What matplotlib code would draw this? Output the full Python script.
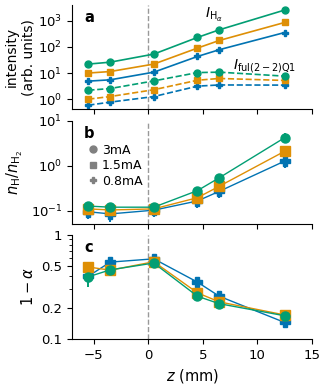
import matplotlib.pyplot as plt
from matplotlib.lines import Line2D

z = [-5.5, -3.5, 0.5, 4.5, 6.5, 12.5]
labels = ["3mA", "1.5mA", "0.8mA"]
colors = ["#029E73", "#DE8F05", "#0173B2"]
markers = ["o", "s", "P"]

# panel a: line intensities
I_ha = [[22, 26, 53, 230, 450, 2570],
        [10, 11.4, 22, 90, 176, 860],
        [4.9, 5.5, 10.8, 43, 78, 355]]
I_ful = [[2.2, 2.55, 5.0, 10.4, 10.8, 7.6],
         [1.0, 1.26, 2.3, 5.3, 6.2, 5.2],
         [0.59, 0.77, 1.26, 3.15, 3.5, 3.45]]

# panel b: nH/nH2
ratio = [[0.127, 0.12, 0.12, 0.28, 0.54, 4.2],
         [0.11, 0.104, 0.11, 0.195, 0.35, 2.1],
         [0.095, 0.085, 0.103, 0.165, 0.27, 1.27]]
ratio_err = [[0.03, 0.03, 0.025, 0.06, 0.12, 1.0],
             [0.025, 0.025, 0.025, 0.05, 0.09, 0.5],
             [0.03, 0.03, 0.03, 0.05, 0.08, 0.4]]

# panel c: 1 - alpha
alpha1 = [[0.395, 0.46, 0.535, 0.257, 0.218, 0.167],
          [0.49, 0.457, 0.55, 0.277, 0.227, 0.17],
          [0.40, 0.546, 0.587, 0.351, 0.257, 0.144]]
alpha1_err = [[0.08, 0.03, 0.03, 0.02, 0.015, 0.01],
              [0.03, 0.03, 0.03, 0.02, 0.015, 0.01],
              [0.03, 0.03, 0.03, 0.02, 0.015, 0.01]]

W, H = 327, 384
fig = plt.figure(figsize=(W / 100, H / 100), dpi=100)

def box(top, bottom):
    return [72 / W, (H - bottom) / H, 240 / W, (bottom - top) / H]

ax1 = fig.add_axes(box(5, 109.3))
ax2 = fig.add_axes(box(120.7, 224.3), sharex=ax1)
ax3 = fig.add_axes(box(234.7, 339), sharex=ax1)

order = [2, 1, 0]  # draw blue first, green on top
for i in order:
    ax1.plot(z, I_ha[i], color=colors[i], marker=markers[i], ms=5, lw=1.2)
    ax1.plot(z, I_ful[i], color=colors[i], marker=markers[i], ms=5, lw=1.2, ls="--")
    ax2.errorbar(z, ratio[i], yerr=ratio_err[i], color=colors[i], marker=markers[i],
                 ms=6.5, lw=1.0, elinewidth=1.4)
    ax3.errorbar(z, alpha1[i], yerr=alpha1_err[i], color=colors[i], marker=markers[i],
                 ms=6.5, lw=1.0, elinewidth=1.4)

for ax in (ax1, ax2, ax3):
    ax.set_yscale("log")
    ax.axvline(0, color="gray", ls="--", lw=1, alpha=0.8, zorder=0)
    ax.spines["top"].set_visible(False)
    ax.spines["right"].set_visible(False)
    ax.tick_params(labelsize=9.5)

ax1.set_xlim(-7, 15)
ax1.set_xticks([-5, 0, 5, 10, 15])
ax1.tick_params(labelbottom=False)
ax2.tick_params(labelbottom=False)

ax1.set_ylim(0.41, 4000)
ax1.set_yticks([1, 10, 100, 1000])
ax1.minorticks_off()
ax1.set_ylabel("intensity\n(arb. units)", fontsize=10, labelpad=2)
ax1.text(5.2, 1700, r"$I_{\mathrm{H}_\alpha}$", fontsize=10, va="center")
ax1.text(7.8, 19, r"$I_{\mathrm{ful}(2-2)\mathrm{Q1}}$", fontsize=10, va="center")

ax2.set_ylim(0.05, 10)
ax2.set_yticks([0.1, 1, 10])
ax2.minorticks_off()
ax2.set_ylabel(r"$n_\mathrm{H}/n_{\mathrm{H}_2}$", fontsize=10.5)
handles = [Line2D([], [], color="gray", marker=m, ls="none", ms=5) for m in markers]
ax2.legend(handles, labels, loc="upper left", bbox_to_anchor=(0.03, 0.85), frameon=False,
           fontsize=9, handletextpad=0.2, borderpad=0.1, labelspacing=0.2, handlelength=1)

ax3.set_ylim(0.1, 1)
ax3.set_yticks([0.1, 0.2, 0.5, 1])
ax3.set_yticklabels(["0.1", "0.2", "0.5", "1"])
ax3.yaxis.set_minor_formatter(plt.NullFormatter())
ax3.set_ylabel(r"$1-\alpha$", fontsize=10.5)
ax3.set_xlabel(r"$z$ (mm)", fontsize=10.5)

for ax, lab in zip((ax1, ax2, ax3), "abc"):
    ax.text(0.05, 0.88, lab, transform=ax.transAxes, fontsize=10.5, fontweight="bold", va="center")

fig.savefig("out.png", dpi=100)
